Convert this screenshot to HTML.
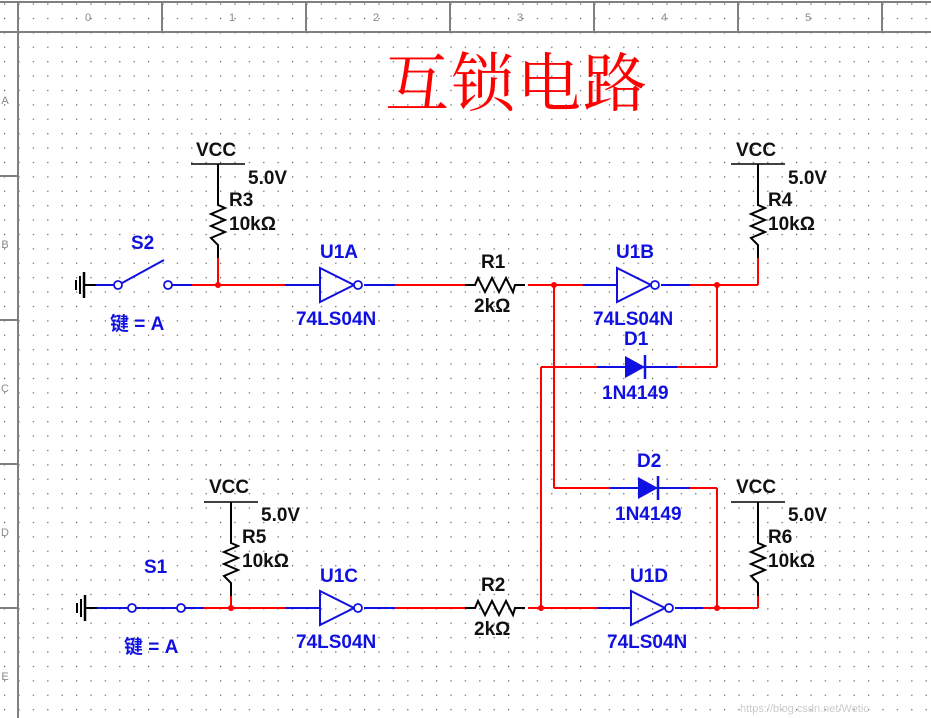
<!DOCTYPE html>
<html><head><meta charset="utf-8"><style>
html,body{margin:0;padding:0;background:#fff;}
svg{display:block;}
text{font-family:"Liberation Sans",Arial,sans-serif;font-weight:bold;}
.b{fill:#1010e0;font-size:19px;}
.k{fill:#111;font-size:19px;}
.r{fill:#888;font-size:11px;font-weight:normal;}
</style></head><body>
<svg width="931" height="718" viewBox="0 0 931 718" xmlns="http://www.w3.org/2000/svg">
<defs>
<pattern id="g" x="4" y="3.5" width="14.4" height="14.4" patternUnits="userSpaceOnUse">
<rect x="0" y="0" width="1.2" height="1.2" fill="#555"/>
</pattern>
<g id="pu">
<line x1="-27" y1="0" x2="27" y2="0" stroke="#000" stroke-width="1.5"/>
<polyline points="0,0 0,41 7,44 -7,50 7,56 -7,62 7,68 -7,74 0,81 0,94" fill="none" stroke="#000" stroke-width="2"/>
</g>
<g id="inv">
<polygon points="0,-16 0,18 34,1" fill="none" stroke="#1010e0" stroke-width="2"/>
<circle cx="38" cy="1" r="4" fill="#fff" stroke="#1010e0" stroke-width="1.8"/>
</g>
<g id="res">
<polyline points="-10,0 0,0 3,-7 10,7 17,-7 24,7 31,-7 38,7 40,0 50,0" fill="none" stroke="#000" stroke-width="2"/>
</g>
<g id="dio">
<polygon points="0,-11 0,11 20,0" fill="#1010e0"/>
<line x1="20" y1="-12" x2="20" y2="12" stroke="#1010e0" stroke-width="2.5"/>
</g>
<g id="gnd">
<line x1="0" y1="0" x2="12" y2="0" stroke="#000" stroke-width="2"/>
<line x1="0" y1="-13" x2="0" y2="13" stroke="#000" stroke-width="2.5"/>
<line x1="-4" y1="-9" x2="-4" y2="9" stroke="#000" stroke-width="2"/>
<line x1="-8" y1="-5" x2="-8" y2="5" stroke="#000" stroke-width="2"/>
</g>
</defs>
<rect width="931" height="718" fill="#fff"/>
<rect x="19" y="33" width="912" height="685" fill="url(#g)"/>
<rect x="0" y="3" width="931" height="29" fill="url(#g)"/>
<rect x="0" y="33" width="17" height="685" fill="url(#g)"/>
<g stroke="#808080" stroke-width="2" fill="none">
<line x1="0" y1="2" x2="931" y2="2"/>
<line x1="0" y1="32" x2="931" y2="32"/>
<line x1="18" y1="2" x2="18" y2="718"/>
<line x1="162" y1="2" x2="162" y2="32"/><line x1="306" y1="2" x2="306" y2="32"/>
<line x1="450" y1="2" x2="450" y2="32"/><line x1="594" y1="2" x2="594" y2="32"/>
<line x1="738" y1="2" x2="738" y2="32"/><line x1="882" y1="2" x2="882" y2="32"/>
<line x1="0" y1="176" x2="18" y2="176"/><line x1="0" y1="320" x2="18" y2="320"/>
<line x1="0" y1="464" x2="18" y2="464"/><line x1="0" y1="608" x2="18" y2="608"/>
</g>
<g text-anchor="middle">
<text x="88" y="21" class="r">0</text><text x="232" y="21" class="r">1</text><text x="376" y="21" class="r">2</text>
<text x="520" y="21" class="r">3</text><text x="664" y="21" class="r">4</text><text x="808" y="21" class="r">5</text>
<text x="5" y="104" class="r">A</text><text x="5" y="248" class="r">B</text><text x="5" y="392" class="r">C</text>
<text x="5" y="536" class="r">D</text><text x="5" y="680" class="r">E</text>
</g>
<text x="385" y="106" style="font-family:'Liberation Serif','Noto Serif CJK SC',serif;font-weight:normal;font-size:64px;fill:#f00;letter-spacing:2px">互锁电路</text>

<g stroke="#f00" stroke-width="2" fill="none">
<line x1="188" y1="285" x2="285" y2="285"/>
<line x1="218" y1="258" x2="218" y2="285"/>
<line x1="395" y1="285" x2="465" y2="285"/>
<line x1="528" y1="285" x2="583" y2="285"/>
<line x1="690" y1="285" x2="758" y2="285"/>
<line x1="758" y1="285" x2="758" y2="258"/>
<line x1="554" y1="285" x2="554" y2="488"/>
<line x1="554" y1="488" x2="610" y2="488"/>
<line x1="690" y1="488" x2="717" y2="488"/>
<line x1="717" y1="285" x2="717" y2="367"/>
<line x1="677" y1="367" x2="717" y2="367"/>
<line x1="541" y1="367" x2="597" y2="367"/>
<line x1="541" y1="367" x2="541" y2="608"/>
<line x1="717" y1="488" x2="717" y2="608"/>
<line x1="204" y1="608" x2="285" y2="608"/>
<line x1="231" y1="596" x2="231" y2="608"/>
<line x1="395" y1="608" x2="465" y2="608"/>
<line x1="528" y1="608" x2="597" y2="608"/>
<line x1="703" y1="608" x2="758" y2="608"/>
<line x1="758" y1="608" x2="758" y2="596"/>
</g>
<g stroke="#1010e0" stroke-width="2" fill="none">
<line x1="96" y1="285" x2="114" y2="285"/>
<line x1="172" y1="285" x2="192" y2="285"/>
<line x1="285" y1="285" x2="320" y2="285"/>
<line x1="364" y1="285" x2="395" y2="285"/>
<line x1="583" y1="285" x2="617" y2="285"/>
<line x1="661" y1="285" x2="690" y2="285"/>
<line x1="597" y1="367" x2="677" y2="367"/>
<line x1="610" y1="488" x2="690" y2="488"/>
<line x1="97" y1="608" x2="204" y2="608"/>
<line x1="285" y1="608" x2="320" y2="608"/>
<line x1="364" y1="608" x2="395" y2="608"/>
<line x1="597" y1="608" x2="631" y2="608"/>
<line x1="675" y1="608" x2="703" y2="608"/>
<line x1="122" y1="283" x2="164" y2="260"/>
</g>
<circle cx="118" cy="285" r="4" fill="#fff" stroke="#1010e0" stroke-width="1.8"/>
<circle cx="168" cy="285" r="4" fill="#fff" stroke="#1010e0" stroke-width="1.8"/>
<circle cx="132" cy="608" r="4" fill="#fff" stroke="#1010e0" stroke-width="1.8"/>
<circle cx="181" cy="608" r="4" fill="#fff" stroke="#1010e0" stroke-width="1.8"/>
<use href="#gnd" x="84" y="285"/>
<use href="#gnd" x="85" y="608"/>

<use href="#pu" x="218" y="164"/>
<use href="#pu" x="758" y="164"/>
<use href="#pu" x="231" y="502"/>
<use href="#pu" x="758" y="502"/>

<use href="#inv" x="320" y="284"/>
<use href="#inv" x="617" y="284"/>
<use href="#inv" x="320" y="607"/>
<use href="#inv" x="631" y="607"/>

<use href="#res" x="475" y="285"/>
<use href="#res" x="475" y="608"/>
<use href="#dio" x="625" y="367"/>
<use href="#dio" x="638" y="488"/>

<g fill="#f00">
<circle cx="218" cy="285" r="3"/><circle cx="554" cy="285" r="3"/><circle cx="717" cy="285" r="3"/>
<circle cx="231" cy="608" r="3"/><circle cx="541" cy="608" r="3"/><circle cx="717" cy="608" r="3"/>
</g>

<text class="k" x="196" y="156">VCC</text><text class="k" x="248" y="184">5.0V</text>
<text class="k" x="229" y="206">R3</text><text class="k" x="229" y="230">10kΩ</text>
<text class="k" x="736" y="156">VCC</text><text class="k" x="788" y="184">5.0V</text>
<text class="k" x="768" y="206">R4</text><text class="k" x="768" y="230">10kΩ</text>
<text class="k" x="209" y="493">VCC</text><text class="k" x="261" y="521">5.0V</text>
<text class="k" x="242" y="543">R5</text><text class="k" x="242" y="567">10kΩ</text>
<text class="k" x="736" y="493">VCC</text><text class="k" x="788" y="521">5.0V</text>
<text class="k" x="768" y="543">R6</text><text class="k" x="768" y="567">10kΩ</text>
<text class="k" x="481" y="268">R1</text><text class="k" x="474" y="312">2kΩ</text>
<text class="k" x="481" y="591">R2</text><text class="k" x="474" y="635">2kΩ</text>

<text class="b" x="131" y="249">S2</text>
<text class="b" x="144" y="573">S1</text>
<text class="b" x="110" y="330" style="font-family:'Liberation Sans','Noto Sans CJK SC',sans-serif">键 = A</text>
<text class="b" x="124" y="653" style="font-family:'Liberation Sans','Noto Sans CJK SC',sans-serif">键 = A</text>
<text class="b" x="320" y="258">U1A</text><text class="b" x="296" y="325">74LS04N</text>
<text class="b" x="616" y="258">U1B</text><text class="b" x="593" y="325">74LS04N</text>
<text class="b" x="320" y="582">U1C</text><text class="b" x="296" y="648">74LS04N</text>
<text class="b" x="630" y="582">U1D</text><text class="b" x="607" y="648">74LS04N</text>
<text class="b" x="624" y="345">D1</text><text class="b" x="602" y="399">1N4149</text>
<text class="b" x="637" y="467">D2</text><text class="b" x="615" y="520">1N4149</text>
<text x="740" y="712" style="font-size:11px;font-weight:normal;fill:#ccc">https://blog.csdn.net/Wetic</text>
</svg>
</body></html>
